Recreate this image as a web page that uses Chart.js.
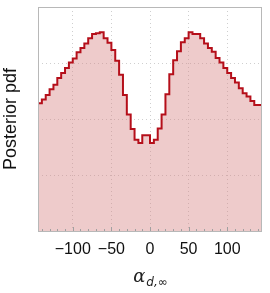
<!DOCTYPE html>
<html>
<head>
<meta charset="utf-8">
<script src="https://cdn.jsdelivr.net/npm/chart.js@4"></script>
<style>
  html, body { margin: 0; padding: 0; background: #fff; }
  #wrap { width: 270px; height: 293px; }
</style>
</head>
<body>
<div id="wrap"><canvas id="pdfChart"></canvas></div>
<script>
// histogram: 58 bins of width 5 from -145 to 145
const binStart = -145;
const binWidth = 5;
const pdfValues = [
  2.22, 2.28, 2.35, 2.43, 2.53, 2.61, 2.73, 2.82, 2.91, 3.01,
  3.08, 3.19, 3.27, 3.35, 3.44, 3.52, 3.53, 3.55, 3.44, 3.36,
  3.23, 3.04, 2.79, 2.43, 2.08, 1.82, 1.63, 1.57, 1.71, 1.71,
  1.57, 1.63, 1.83, 2.08, 2.44, 2.80, 3.05, 3.21, 3.37, 3.44,
  3.55, 3.52, 3.52, 3.44, 3.35, 3.27, 3.20, 3.09, 3.01, 2.91,
  2.82, 2.73, 2.65, 2.55, 2.46, 2.40, 2.32, 2.25
];
const xTicks = [-100, -50, 0, 50, 100];
const xMinorTicks = [-140, -130, -120, -110, -90, -80, -70, -60, -40, -30, -20, -10,
                     10, 20, 30, 40, 60, 70, 80, 90, 110, 120, 130, 140];
const yGridLines = [1, 2, 3];

// step points at bin left edges, plus closing point at last right edge
const points = pdfValues.map((v, i) => ({ x: binStart + i * binWidth, y: v }));
points.push({ x: binStart + pdfValues.length * binWidth, y: pdfValues[pdfValues.length - 1] });

const lineRed = '#b50f1a';
const frameGrey = '#b8b8b8';

// frame, inward ticks and the x label with subscript
const decor = {
  id: 'decor',
  afterDatasetsDraw(chart) {
    const { ctx, chartArea: a, scales } = chart;
    const xs = scales.x;
    ctx.save();
    ctx.strokeStyle = '#a0a0a0';
    ctx.lineWidth = 1;
    xTicks.forEach(v => {
      const px = Math.round(xs.getPixelForValue(v)) + 0.5;
      ctx.beginPath(); ctx.moveTo(px, a.bottom); ctx.lineTo(px, a.bottom - 4); ctx.stroke();
    });
    xMinorTicks.forEach(v => {
      const px = Math.round(xs.getPixelForValue(v)) + 0.5;
      ctx.beginPath(); ctx.moveTo(px, a.bottom); ctx.lineTo(px, a.bottom - 2); ctx.stroke();
    });
    ctx.strokeStyle = frameGrey;
    ctx.strokeRect(Math.round(a.left) + 0.5, Math.round(a.top) + 0.5,
                   Math.round(a.right - a.left) - 1, Math.round(a.bottom - a.top));
    ctx.restore();
  },
  afterDraw(chart) {
    const { ctx } = chart;
    const cx = chart.scales.x.getPixelForValue(0);
    ctx.save();
    ctx.fillStyle = '#222';
    ctx.textBaseline = 'alphabetic';
    ctx.font = 'italic 18px "DejaVu Serif", serif';
    const wA = ctx.measureText('α').width;
    ctx.font = 'italic 12px "DejaVu Sans", sans-serif';
    const wS = ctx.measureText('d,∞').width;
    const x0 = cx - (wA + wS) / 2;
    ctx.font = 'italic 18px "DejaVu Serif", serif';
    ctx.fillText('α', x0, 282);
    ctx.font = 'italic 12px "DejaVu Sans", sans-serif';
    ctx.fillText('d,∞', x0 + wA + 1, 286);
    ctx.restore();
  }
};

const ctxPdf = document.getElementById('pdfChart').getContext('2d');
const pdfChart = new Chart(ctxPdf, {
  type: 'line',
  data: {
    datasets: [{
      data: points,
      stepped: 'after',
      borderColor: lineRed,
      borderWidth: 2,
      backgroundColor: 'rgba(214, 130, 130, 0.42)',
      fill: 'origin',
      pointRadius: 0
    }]
  },
  options: {
    responsive: true,
    maintainAspectRatio: false,
    animation: false,
    layout: { padding: { top: 7, right: 8, left: 0, bottom: 0 } },
    plugins: { legend: { display: false }, tooltip: { enabled: false } },
    scales: {
      x: {
        type: 'linear',
        min: -145,
        max: 145,
        afterBuildTicks: s => { s.ticks = xTicks.map(v => ({ value: v })); },
        afterFit: s => { s.height = 62; },
        border: { display: false, dash: [1, 3] },
        grid: { color: '#cfcfcf', drawTicks: false },
        ticks: {
          color: '#111',
          padding: 9,
          maxRotation: 0,
          font: { family: "'Liberation Sans', Arial, sans-serif", size: 16 },
          callback: v => (v < 0 ? '\u2212' + Math.abs(v) : String(v))
        }
      },
      y: {
        min: 0,
        max: 4,
        afterBuildTicks: s => { s.ticks = yGridLines.map(v => ({ value: v })); },
        afterFit: s => { s.width = 38; },
        border: { display: false, dash: [1, 3] },
        grid: { color: '#cfcfcf', drawTicks: false },
        ticks: { display: false },
        title: {
          display: true,
          text: 'Posterior pdf',
          color: '#111',
          padding: { top: 0, bottom: 4 },
          font: { family: "'Liberation Sans', Arial, sans-serif", size: 18 }
        }
      }
    }
  },
  plugins: [decor]
});
</script>
</body>
</html>
